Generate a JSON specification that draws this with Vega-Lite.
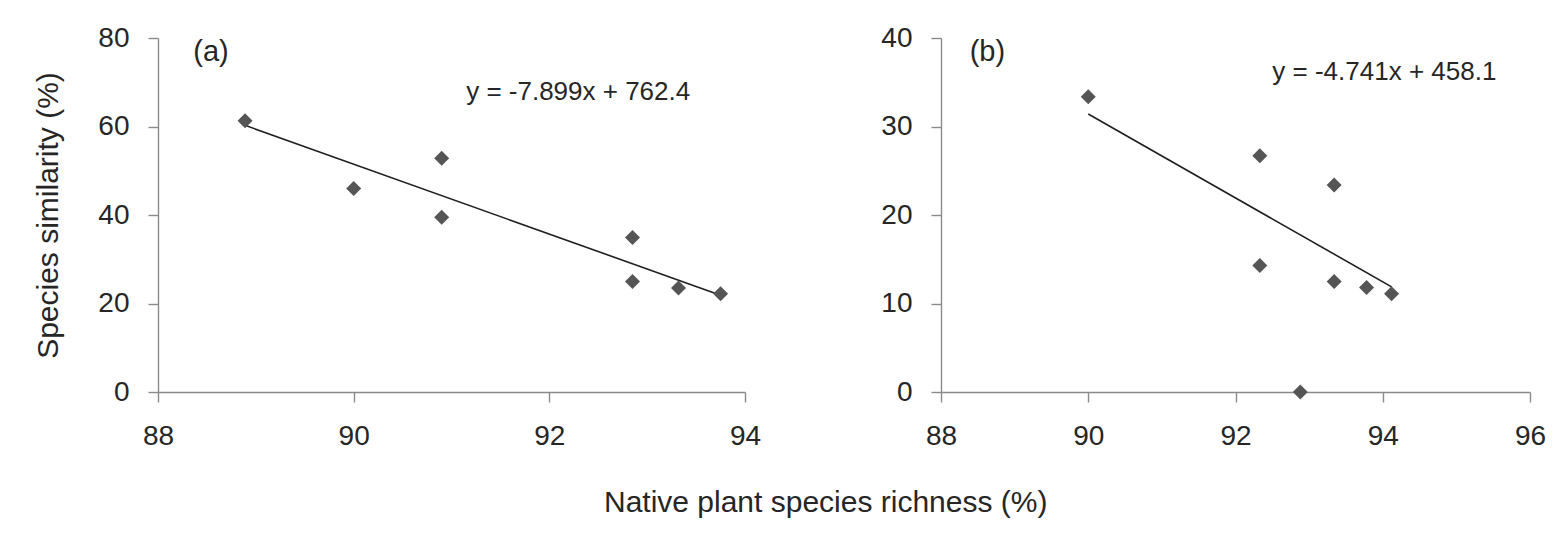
{
  "$schema": "https://vega.github.io/schema/vega-lite/v6.json",
  "background": "white",
  "padding": {"left": 33, "top": 24, "right": 5, "bottom": 5},
  "spacing": 119,
  "datasets": {
    "pointsA": [
      {"richness": 88.89, "similarity": 61.3},
      {"richness": 90.0, "similarity": 46.0},
      {"richness": 90.9, "similarity": 52.8},
      {"richness": 90.9, "similarity": 39.5},
      {"richness": 92.85, "similarity": 34.9},
      {"richness": 92.85, "similarity": 25.0},
      {"richness": 93.32, "similarity": 23.5},
      {"richness": 93.75, "similarity": 22.2}
    ],
    "fitA": [
      {"richness": 88.89, "similarity": 60.26},
      {"richness": 93.75, "similarity": 21.87}
    ],
    "tagA": [{"richness": 88.36, "similarity": 76.8, "label": "(a)"}],
    "eqA": [{"richness": 91.15, "similarity": 67.7, "label": "y = -7.899x  + 762.4"}],
    "pointsB": [
      {"richness": 90.0, "similarity": 33.35},
      {"richness": 92.33, "similarity": 26.7},
      {"richness": 93.34, "similarity": 23.4},
      {"richness": 92.33, "similarity": 14.3},
      {"richness": 93.34, "similarity": 12.5},
      {"richness": 93.78, "similarity": 11.8},
      {"richness": 94.12, "similarity": 11.1},
      {"richness": 92.88, "similarity": 0.0}
    ],
    "fitB": [
      {"richness": 90.0, "similarity": 31.41},
      {"richness": 94.12, "similarity": 11.88}
    ],
    "tagB": [{"richness": 88.39, "similarity": 38.4, "label": "(b)"}],
    "eqB": [{"richness": 92.5, "similarity": 36.2, "label": "y = -4.741x  + 458.1"}]
  },
  "title": {
    "text": "Native plant species richness (%)",
    "orient": "bottom",
    "anchor": "middle",
    "font": "Liberation Sans",
    "fontSize": 30,
    "fontWeight": "normal",
    "color": "#262626",
    "offset": 38,
    "dx": 36
  },
  "config": {
    "font": "Liberation Sans",
    "view": {"stroke": null},
    "axis": {
      "grid": false,
      "domainColor": "#8a8a8a",
      "domainWidth": 1.4,
      "tickColor": "#8a8a8a",
      "tickWidth": 1.4,
      "tickSize": 10,
      "labelFont": "Liberation Sans",
      "labelFontSize": 28,
      "labelColor": "#262626",
      "labelFlush": false,
      "labelOverlap": false,
      "titleFont": "Liberation Sans",
      "titleFontSize": 30,
      "titleFontWeight": "normal",
      "titleColor": "#262626"
    },
    "axisX": {"labelPadding": 20},
    "axisY": {"labelPadding": 19, "titlePadding": 34}
  },
  "hconcat": [
    {
      "width": 587,
      "height": 354,
      "encoding": {
        "x": {
          "field": "richness",
          "type": "quantitative",
          "scale": {"domain": [88, 94], "nice": false, "zero": false},
          "axis": {"values": [88, 90, 92, 94], "title": null}
        },
        "y": {
          "field": "similarity",
          "type": "quantitative",
          "scale": {"domain": [0, 80], "nice": false},
          "axis": {"values": [0, 20, 40, 60, 80], "title": "Species similarity (%)"}
        }
      },
      "layer": [
        {
          "data": {"name": "fitA"},
          "mark": {"type": "line", "color": "#1f1f1f", "strokeWidth": 1.6}
        },
        {
          "data": {"name": "pointsA"},
          "mark": {"type": "point", "shape": "diamond", "filled": true, "color": "#555555", "opacity": 1, "size": 225}
        },
        {
          "data": {"name": "tagA"},
          "mark": {"type": "text", "align": "left", "baseline": "middle", "fontSize": 29, "color": "#262626"},
          "encoding": {"text": {"field": "label"}}
        },
        {
          "data": {"name": "eqA"},
          "mark": {"type": "text", "align": "left", "baseline": "middle", "fontSize": 26, "color": "#262626"},
          "encoding": {"text": {"field": "label"}}
        }
      ]
    },
    {
      "width": 589,
      "height": 354,
      "encoding": {
        "x": {
          "field": "richness",
          "type": "quantitative",
          "scale": {"domain": [88, 96], "nice": false, "zero": false},
          "axis": {"values": [88, 90, 92, 94, 96], "title": null}
        },
        "y": {
          "field": "similarity",
          "type": "quantitative",
          "scale": {"domain": [0, 40], "nice": false},
          "axis": {"values": [0, 10, 20, 30, 40], "title": null}
        }
      },
      "layer": [
        {
          "data": {"name": "fitB"},
          "mark": {"type": "line", "color": "#1f1f1f", "strokeWidth": 1.6}
        },
        {
          "data": {"name": "pointsB"},
          "mark": {"type": "point", "shape": "diamond", "filled": true, "color": "#555555", "opacity": 1, "size": 225}
        },
        {
          "data": {"name": "tagB"},
          "mark": {"type": "text", "align": "left", "baseline": "middle", "fontSize": 29, "color": "#262626"},
          "encoding": {"text": {"field": "label"}}
        },
        {
          "data": {"name": "eqB"},
          "mark": {"type": "text", "align": "left", "baseline": "middle", "fontSize": 26, "color": "#262626"},
          "encoding": {"text": {"field": "label"}}
        }
      ]
    }
  ]
}
